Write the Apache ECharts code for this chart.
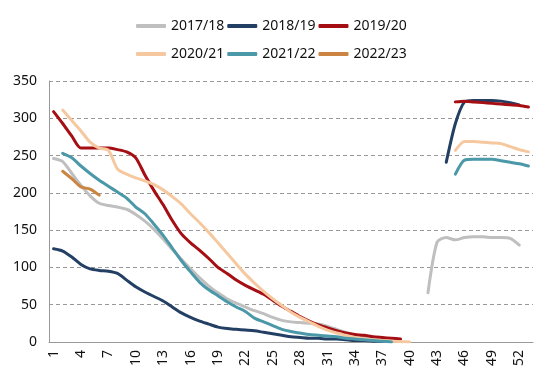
<!DOCTYPE html>
<html>
<head>
<meta charset="utf-8">
<script src="https://cdn.jsdelivr.net/npm/echarts@6/dist/echarts.min.js"></script>
<style>html,body{margin:0;padding:0;background:#fff;}#c{width:550px;height:380px;}</style>
</head>
<body>
<div id="c"></div>
<script>
const weeks = Array.from({length: 53}, (_, i) => String(i + 1));
const yTicks = [0, 50, 100, 150, 200, 250, 300, 350];
const seriesNames = ['2017/18', '2018/19', '2019/20', '2020/21', '2021/22', '2022/23'];

const s2017 = [246, 242, 226, 210, 196, 186, 183, 181, 178, 171, 162, 151, 138, 124, 111, 98, 86, 75, 66, 58,
  52, 47, 42, 38, 33, 29, 27, 26, 25, 24, 21, 17, 13, 9, 6, 4, 2, 1,
  null, null, null,
  66, 134, 140, 137, 140, 141, 141, 140, 140, 139, 130, null];
const s2018 = [125, 122, 114, 104, 98, 96, 95, 92, 83, 74, 67, 61, 55, 47, 39, 33, 28, 24, 20, 18,
  17, 16, 15, 13, 11, 9, 7, 6, 5, 5, 4, 4, 3, 2, 2, 1, 1,
  null, null, null, null, null, null,
  241, 293, 322, 324, 324, 324, 323, 321, 318, null];
const s2019 = [309, 293, 276, 260, 260, 260, 260, 258, 255, 247, 224, 203, 184, 163, 145, 133, 123, 112, 100, 92,
  83, 76, 70, 64, 56, 48, 41, 34, 28, 23, 19, 15, 12, 10, 9, 7, 6, 5, 4,
  null, null, null, null, null,
  322, 323, 322, 321, 320, 319, 318, 317, 315];
const s2020 = [null, 311, 297, 283, 268, 260, 257, 232, 225, 220, 216, 211, 204, 195, 185, 172, 160, 147, 133, 119,
  105, 91, 79, 68, 58, 49, 40, 33, 27, 21, 16, 12, 9, 6, 4, 3, 2, 1, 0.5, 0,
  null, null, null, null,
  257, 269, 269, 268, 267, 266, 262, 258, 255];
const s2021 = [null, 253, 247, 236, 226, 217, 209, 201, 193, 181, 172, 158, 143, 126, 109, 94, 80, 70, 62, 54,
  47, 41, 32, 27, 22, 17, 14, 12, 10, 9, 8, 7, 5, 4, 3, 2, 1, 0,
  null, null, null, null, null, null,
  225, 244, 245, 245, 245, 243, 241, 239, 236];
const s2022 = [null, 229, 219, 208, 205, 197].concat(new Array(47).fill(null));

const colors = ['#BFBFBF', '#233F63', '#A50E12', '#F6C8A0', '#4A98A8', '#CC8442'];
const dataSets = [s2017, s2018, s2019, s2020, s2021, s2022];

const chart = echarts.init(document.getElementById('c'), null, {renderer: 'canvas'});
const legendBase = {
  left: 131, orient: 'horizontal', icon: 'roundRect', itemWidth: 30, itemHeight: 4, itemGap: 3,
  textStyle: {fontFamily: 'Noto Sans', fontSize: 14, color: '#111'}
};
chart.setOption({
  animation: false,
  color: colors,
  legend: [
    Object.assign({}, legendBase, {top: 14, data: seriesNames.slice(0, 3)}),
    Object.assign({}, legendBase, {top: 42, data: seriesNames.slice(3)})
  ],
  grid: {left: 49, right: 17, top: 81, bottom: 38, containLabel: false},
  xAxis: {
    type: 'category', data: weeks, boundaryGap: true,
    axisLine: {lineStyle: {color: '#999', width: 1}},
    axisTick: {show: false},
    axisLabel: {interval: 2, rotate: 90, fontFamily: 'Noto Sans', fontSize: 14, color: '#111', margin: 8}
  },
  yAxis: {
    type: 'value', min: yTicks[0], max: yTicks[yTicks.length - 1], interval: 50,
    axisLine: {show: true, lineStyle: {color: '#999', width: 1}},
    axisTick: {show: false},
    splitLine: {lineStyle: {color: '#999', type: [4, 3], width: 1}},
    axisLabel: {fontFamily: 'Noto Sans', fontSize: 14, color: '#111', margin: 12}
  },
  series: seriesNames.map((n, i) => ({
    name: n, type: 'line', data: dataSets[i], showSymbol: false, symbol: 'none',
    smooth: 0.25, connectNulls: false,
    lineStyle: {width: 3, color: colors[i], cap: 'round', join: 'round'},
    itemStyle: {color: colors[i]}
  }))
});
</script>
</body>
</html>
